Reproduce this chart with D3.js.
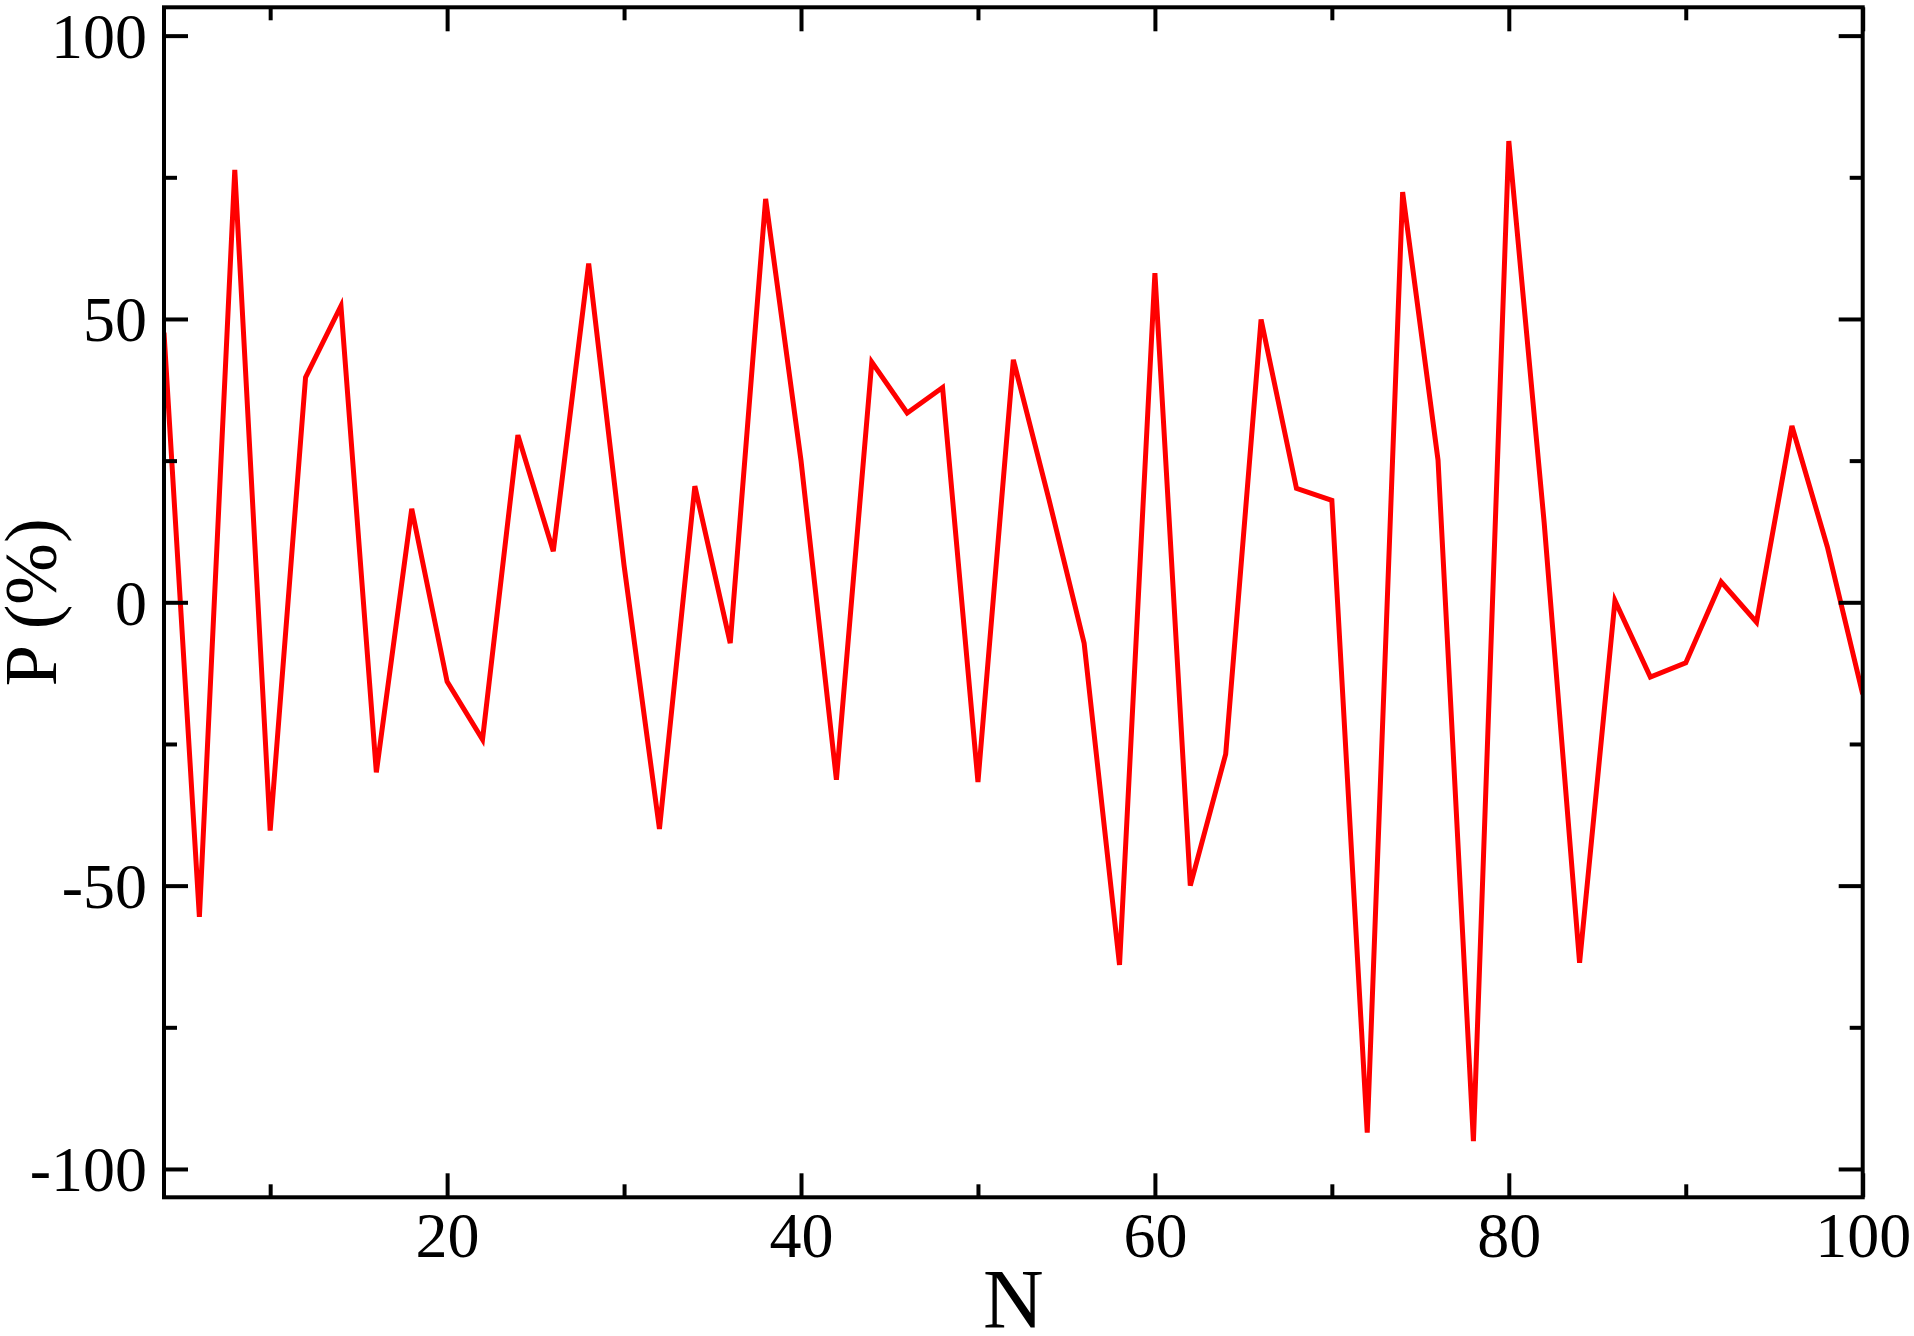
<!DOCTYPE html>
<html>
<head>
<meta charset="utf-8">
<script src="https://cdn.jsdelivr.net/npm/d3@7"></script>
<style>
  html, body { margin: 0; padding: 0; background: #fff; }
  svg { display: block; }
  text { font-family: "Liberation Serif", "Times New Roman", serif; fill: #000; }
</style>
</head>
<body>
<script>
// ---- data ----
const N = [4,6,8,10,12,14,16,18,20,22,24,26,28,30,32,34,36,38,40,42,44,46,48,50,
           52,54,56,58,60,62,64,66,68,70,72,74,76,78,80,82,84,86,88,90,92,94,96,98,100];
const P = [47.6,-55.5,76.3,-40.3,39.7,52.3,-30,16.5,-14,-24.2,29.5,9,59.8,6.5,-40,20.5,-7.2,71.2,25,-31.3,
           42.4,33.4,37.9,-31.7,42.8,18.3,-7.2,-64,58.1,-50,-26.8,49.9,20.1,18,-93.6,72.4,25.1,-95.1,81.4,14,
           -63.6,0.3,-13.2,-10.7,3.6,-3.5,31.1,9.8,-16.2];
const xMajor = [20,40,60,80,100];
const xMinor = [10,30,50,70,90];
const yMajor = [-100,-50,0,50,100];
const yMinor = [-75,-25,25,75];
const xTitle = "N";
const yTitle = "P (%)";

// ---- layout ----
const W = 1914, H = 1336;
const L = 164, R = 1862.7, T = 7.3, B = 1197.3;

const svg = d3.select("body").append("svg").attr("width", W).attr("height", H);

const x = d3.scaleLinear().domain([4, 100]).range([L, R]);
const y = d3.scaleLinear().domain([-105, 105]).range([B, T]);

svg.append("defs").append("clipPath").attr("id", "clip")
  .append("rect").attr("x", L).attr("y", T).attr("width", R - L).attr("height", B - T);

// line
const line = d3.line().x((d, i) => x(N[i])).y(d => y(d));
svg.append("path")
  .datum(P)
  .attr("clip-path", "url(#clip)")
  .attr("d", line)
  .attr("fill", "none")
  .attr("stroke", "#ff0000")
  .attr("stroke-width", 5)
  .attr("stroke-linejoin", "miter")
  .attr("stroke-miterlimit", 4);

const major = 24, minor = 13, fs = 64;
const fmt = d => String(d);

function styleAxis(g) {
  g.select(".domain").remove();
  g.selectAll("line").attr("stroke", "#000").attr("stroke-width", 4);
  g.selectAll("text").style("font-size", fs + "px").attr("fill", "#000");
}

// bottom
svg.append("g").attr("transform", `translate(0,${B})`)
  .call(d3.axisBottom(x).tickValues(xMajor).tickSize(-major).tickFormat(fmt))
  .call(styleAxis)
  .call(g => g.selectAll("text").attr("y", 60).attr("dy", 0));
svg.append("g").attr("transform", `translate(0,${B})`)
  .call(d3.axisBottom(x).tickValues(xMinor).tickSize(-minor).tickFormat(""))
  .call(styleAxis);
// top
svg.append("g").attr("transform", `translate(0,${T})`)
  .call(d3.axisTop(x).tickValues(xMajor).tickSize(-major).tickFormat(""))
  .call(styleAxis);
svg.append("g").attr("transform", `translate(0,${T})`)
  .call(d3.axisTop(x).tickValues(xMinor).tickSize(-minor).tickFormat(""))
  .call(styleAxis);
// left
svg.append("g").attr("transform", `translate(${L},0)`)
  .call(d3.axisLeft(y).tickValues(yMajor).tickSize(-major).tickPadding(17).tickFormat(fmt))
  .call(styleAxis)
  .call(g => g.selectAll("text").attr("dy", "0.34em"));
svg.append("g").attr("transform", `translate(${L},0)`)
  .call(d3.axisLeft(y).tickValues(yMinor).tickSize(-minor).tickFormat(""))
  .call(styleAxis);
// right
svg.append("g").attr("transform", `translate(${R},0)`)
  .call(d3.axisRight(y).tickValues(yMajor).tickSize(-major).tickFormat(""))
  .call(styleAxis);
svg.append("g").attr("transform", `translate(${R},0)`)
  .call(d3.axisRight(y).tickValues(yMinor).tickSize(-minor).tickFormat(""))
  .call(styleAxis);

// frame
svg.append("rect")
  .attr("x", L).attr("y", T).attr("width", R - L).attr("height", B - T)
  .attr("fill", "none").attr("stroke", "#000").attr("stroke-width", 4);

// titles
svg.append("text")
  .attr("x", (L + R) / 2).attr("y", 1328)
  .attr("text-anchor", "middle")
  .style("font-size", "84px")
  .text(xTitle);

svg.append("text")
  .attr("transform", `translate(56,${(T + B) / 2}) rotate(-90)`)
  .attr("text-anchor", "middle")
  .style("font-size", "74px")
  .text(yTitle);
</script>
</body>
</html>
